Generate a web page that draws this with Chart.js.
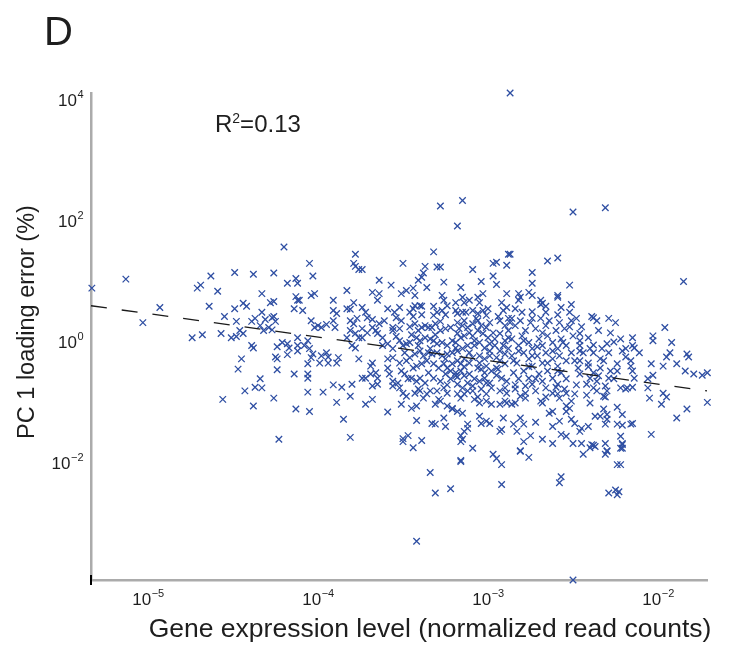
<!DOCTYPE html>
<html lang="en">
<head>
<meta charset="UTF-8">
<title>PC 1 loading error vs gene expression level</title>
<script src="https://cdn.jsdelivr.net/npm/chart.js@4.4.0/dist/chart.umd.min.js"></script>
<style>
    body { margin: 0; background: #ffffff; }
    .wrap { position: relative; width: 729px; height: 649px; }
</style>
</head>
<body>
<div class="wrap"><canvas id="scatter"></canvas></div>
<script>
// values, as log10 of each quantity (one line = same points in both arrays)
const log10Expression = [
    -5.33, -5.13, -5.03, -4.93, -4.74, -4.71, -4.69, -4.68, -4.63, -4.59,
    -4.64, -4.57, -4.56, -4.55, -4.49, -4.49, -4.48, -4.51, -4.48, -4.46,
    -4.44, -4.44, -4.42, -4.45, -4.47, -4.43, -4.39, -4.38, -4.38, -4.38,
    -4.37, -4.34, -4.33, -4.39, -4.37, -4.33, -4.33, -4.34, -4.32, -4.31,
    -4.29, -4.27, -4.27, -4.26, -4.25, -4.28, -4.26, -4.26, -4.26, -4.23,
    -4.24, -4.21, -4.18, -4.17, -4.25, -4.24, -4.18, -4.24, -4.20, -4.18,
    -4.14, -4.14, -4.13, -4.13, -4.12, -4.13, -4.12, -4.12, -4.12, -4.12,
    -4.05, -4.03, -4.04, -4.02, -4.09, -4.11, -4.04, -4.02, -4.00, -3.98,
    -3.95, -4.06, -4.08, -4.05, -4.03, -4.04, -3.98, -3.95, -3.94, -4.06,
    -3.99, -3.94, -3.89, -3.88, -4.06, -4.06, -4.06, -4.05, -3.97, -3.91,
    -3.86, -3.89, -3.85, -3.81, -3.80, -3.81, -3.91, -3.91, -3.89, -3.91,
    -3.90, -3.83, -3.83, -3.81, -3.79, -3.78, -3.79, -3.78, -3.76, -3.74,
    -3.81, -3.79, -3.77, -3.83, -3.81, -3.78, -3.76, -3.74, -3.78, -3.80,
    -3.76, -3.74, -3.72, -3.71, -3.68, -3.74, -3.71, -3.68, -3.66, -3.65,
    -3.68, -3.64, -3.65, -3.64, -3.68, -3.69, -3.72, -3.69, -3.66, -3.65,
    -3.68, -3.65, -3.72, -3.68, -3.74, -3.62, -3.62, -3.59, -3.64, -3.61,
    -3.59, -3.57, -3.56, -3.56, -3.59, -3.56, -3.59, -3.58, -3.56, -3.56,
    -3.59, -3.54, -3.52, -3.52, -3.51, -3.48, -3.50, -3.52, -3.50, -3.48,
    -3.46, -3.52, -3.48, -3.46, -3.51, -3.49, -3.47, -3.52, -3.50, -3.51,
    -3.50, -3.47, -3.46, -3.44, -3.43, -3.44, -3.43, -3.41, -3.39, -3.38,
    -3.37, -3.36, -3.40, -3.39, -3.43, -3.41, -3.39, -3.37, -3.35, -3.42,
    -3.40, -3.37, -3.34, -3.43, -3.40, -3.38, -3.35, -3.44, -3.42, -3.39,
    -3.45, -3.42, -3.40, -3.37, -3.43, -3.40, -3.38, -3.36, -3.45, -3.42,
    -3.42, -3.44, -3.39, -3.32, -3.30, -3.28, -3.26, -3.27, -3.26, -3.24,
    -3.32, -3.30, -3.27, -3.33, -3.31, -3.28, -3.25, -3.22, -3.32, -3.30,
    -3.27, -3.24, -3.21, -3.33, -3.30, -3.27, -3.24, -3.21, -3.32, -3.29,
    -3.26, -3.24, -3.21, -3.32, -3.28, -3.25, -3.22, -3.19, -3.34, -3.30,
    -3.26, -3.24, -3.31, -3.28, -3.24, -3.21, -3.33, -3.31, -3.26, -3.25,
    -3.16, -3.15, -3.14, -3.11, -3.19, -3.18, -3.15, -3.18, -3.15, -3.14,
    -3.12, -3.18, -3.16, -3.14, -3.11, -3.19, -3.18, -3.15, -3.12, -3.18,
    -3.16, -3.14, -3.11, -3.19, -3.16, -3.14, -3.11, -3.18, -3.15, -3.12,
    -3.09, -3.18, -3.16, -3.14, -3.21, -3.18, -3.15, -3.12, -3.12, -3.14,
    -3.16, -3.15, -3.09, -3.09, -3.16, -3.06, -3.05, -3.03, -3.04, -3.09,
    -3.06, -3.03, -3.01, -3.09, -3.06, -3.04, -3.01, -2.99, -3.09, -3.06,
    -3.03, -3.00, -2.97, -3.08, -3.05, -3.02, -2.99, -2.96, -3.09, -3.05,
    -3.02, -2.99, -2.95, -3.06, -3.04, -3.01, -2.98, -2.95, -3.08, -3.05,
    -3.02, -2.99, -3.09, -3.04, -3.01, -2.98, -3.08, -3.05, -3.01, -2.98,
    -3.05, -3.04, -3.01, -2.99, -2.97, -2.95, -2.93, -2.92, -2.91, -2.97,
    -2.95, -2.97, -2.95, -2.89, -2.88, -2.89, -2.92, -2.91, -2.89, -2.93,
    -2.90, -2.88, -2.93, -2.90, -2.88, -2.93, -2.90, -2.88, -2.93, -2.90,
    -2.92, -2.89, -2.93, -2.90, -2.93, -2.90,
    -2.87, -2.74, -2.65, -2.59, -2.74, -2.52, -2.82, -2.81, -2.82, -2.76,
    -2.74, -2.69, -2.68, -2.69, -2.59, -2.59, -2.84, -2.74, -2.66, -2.57,
    -2.51, -2.48, -2.51, -2.39, -2.38, -2.25, -1.85, -1.96, -2.03, -2.03,
    -1.92, -2.15, -2.15, -2.14, -2.28, -2.26, -2.41, -2.46, -2.19, -2.21,
    -2.30, -2.33, -2.40, -2.38, -2.46, -2.46, -1.93, -1.95, -1.83, -1.82,
    -2.16, -2.16, -2.04, -1.97, -1.89, -1.84, -1.79, -1.74, -1.71, -2.03,
    -2.06, -2.15, -2.14, -2.24, -2.24, -2.28, -2.29, -2.34, -2.34, -2.35,
    -2.38, -2.40, -2.41, -2.46, -2.47, -2.46, -2.22, -2.19, -2.18, -2.15,
    -2.31, -2.30, -2.32, -2.38, -2.36, -2.42, -2.06, -2.05, -1.97, -1.95,
    -1.98, -1.71, -1.83, -1.89, -2.04, -2.24, -2.21, -2.15, -2.16, -2.24,
    -2.21, -2.22, -2.21, -2.22, -2.32, -2.30, -2.34, -2.37, -2.30, -2.31,
    -2.30, -2.31, -2.40, -2.41, -2.45, -2.46, -2.39, -2.37, -2.44, -2.51,
    -2.49, -2.54, -2.52, -2.57, -2.54, -2.50, -2.45, -2.58, -2.62, -2.64,
    -2.62, -2.68, -2.62, -2.72, -2.75, -2.79, -2.81, -2.76, -2.81, -2.79,
    -2.85, -2.83, -2.89, -2.86, -2.84, -2.81, -2.78, -2.69, -2.68, -2.59,
    -2.58, -2.54, -2.51, -2.49,
    -2.86, -2.84, -2.81, -2.78, -2.75, -2.72, -2.69, -2.66, -2.64, -2.60,
    -2.58, -2.55, -2.86, -2.82, -2.80, -2.76, -2.74, -2.70, -2.68, -2.65,
    -2.62, -2.59, -2.57, -2.54, -2.50, -2.86, -2.83, -2.79, -2.76, -2.74,
    -2.71, -2.68, -2.66, -2.62, -2.59, -2.58, -2.54, -2.51, -2.85, -2.82,
    -2.79, -2.76, -2.74, -2.70, -2.68, -2.65, -2.62, -2.59, -2.57, -2.54,
    -2.84, -2.78, -2.72, -2.66, -2.62, -2.55,
    -3.56, -3.54, -3.49, -3.46, -3.44, -3.41, -3.36, -3.34, -3.31, -3.28,
    -3.25, -3.22, -3.19, -3.17, -3.14, -3.11, -3.08, -3.05, -3.02, -2.99,
    -2.96, -2.94, -2.91, -2.88, -2.85, -2.82, -2.79, -2.76, -2.74, -2.71,
    -2.68, -2.65, -2.62, -2.59, -2.56, -2.52, -2.49, -2.46, -2.44, -2.41,
    -2.38, -2.35, -2.32, -2.29, -2.26, -3.53, -3.48, -3.41, -3.35, -3.29,
    -3.24, -3.18, -3.12, -3.06, -3.01, -2.95, -2.89, -2.84, -2.78, -2.72,
    -2.66, -2.60, -2.54, -2.48, -2.42, -2.36, -2.31, -3.55, -3.51, -3.45,
    -3.39, -3.32, -3.25, -3.19, -3.13, -3.07, -3.00, -2.94, -2.87, -2.80,
    -2.74, -2.66, -2.59, -2.52, -2.45, -2.36, -2.29, -2.22, -2.19, -2.11,
    -3.34, -3.31, -3.22, -3.42, -3.16, -2.92, -2.92, -2.81, -2.57, -2.58,
    -2.40, -2.38, -2.31, -2.30, -2.21, -2.21, -2.24, -2.22, -2.29, -2.25,
    -2.23, -2.24, -2.50, -3.50, -3.16,
    -2.87, -3.28, -3.15, -3.18, -2.50, -2.31
];
const log10Error = [
    0.87, 1.02, 0.30, 0.55, 0.05, 0.87, 0.92, 0.10, 1.07, 0.82,
    0.57, 0.12, -0.97, 0.40, 1.13, 0.53, 0.32, 0.05, 0.07, 0.17,
    0.12, 0.62, 0.57, -0.30, -0.47, -0.83, -0.08, -0.12, -1.08, 1.10,
    -0.77, -0.63, -0.78, 0.32, 0.37, 0.78, 0.47, 0.25, 0.17, 0.35,
    0.22, 0.18, 0.38, 0.40, 0.32, 0.63, 0.65, 1.12, -0.95, -1.63,
    -0.10, -0.03, -0.05, -0.12, -0.27, -0.30, -0.23, -0.48, 1.55, 0.95,
    0.53, -0.55, -1.13, 1.03, 0.95, 0.73, 0.67, 0.05, -0.08, -0.17,
    1.28, 1.07, 0.75, 0.78, 0.50, 0.67, 0.33, 0.22, 0.25, 0.22,
    0.27, 0.00, -0.08, -0.13, -0.22, -0.28, -0.25, -0.20, -0.27, -0.38,
    -0.37, -0.37, -0.37, -0.28, -0.55, -0.62, -0.85, -1.17, -0.85, -0.73,
    -0.77, -1.02, -1.30, -1.60, -0.72, -0.92, 0.67, 0.50, 0.45, 0.33,
    0.22, 0.83, 0.53, 0.52, 0.63, 1.43, 1.28, 1.23, 1.18, 1.18,
    0.33, 0.28, 0.37, 0.05, 0.17, 0.12, 0.05, 0.05, -0.12, -0.08,
    -0.30, 0.55, 0.47, 0.38, 0.35, 0.20, 0.13, 0.22, 0.17, 0.12,
    0.80, 0.78, 0.67, 1.00, -0.37, -0.42, -0.62, -0.55, -0.53, -0.62,
    -0.75, -0.72, -1.05, -0.97, -0.62, 0.05, -0.08, -0.05, 0.28, 0.33,
    0.53, 0.92, 0.17, 0.22, -0.30, -0.28, -0.45, -0.55, -0.67, -0.75,
    -1.18, 0.38, 0.20, 0.55, 0.78, 0.83, 1.28, 0.00, -0.08, -0.05,
    -0.03, -0.37, -0.33, -0.28, -0.50, -0.55, -0.63, -0.78, -0.87, -1.05,
    -1.62, -1.57, 0.47, 0.53, 0.58, 0.87, 0.75, 1.00, 1.05, 1.12,
    1.23, 0.88, 0.58, 0.57, 0.28, 0.17, 0.22, 0.25, 0.22, 0.05,
    0.00, 0.05, 0.03, -0.22, -0.17, -0.25, -0.20, -0.45, -0.42, -0.38,
    -0.62, -0.67, -0.62, -0.70, -0.87, -0.83, -0.95, -0.88, -1.12, -1.08,
    -1.32, -1.77, -1.65, 1.47, 1.22, 1.22, 0.97, 0.75, 0.67, 0.58,
    0.42, 0.47, 0.50, 0.22, 0.28, 0.17, 0.20, 0.22, 0.00, -0.05,
    -0.03, -0.08, 0.00, -0.22, -0.20, -0.25, -0.22, -0.20, -0.38, -0.45,
    -0.38, -0.45, -0.38, -0.62, -0.67, -0.55, -0.63, -0.58, -0.83, -0.83,
    -0.78, -0.87, -1.05, -1.00, -1.08, -1.12, -1.37, -1.38, -1.28, -1.42,
    0.88, 0.72, 0.63, 0.67, 0.50, 0.45, 0.47, 0.30, 0.25, 0.33,
    0.22, 0.12, 0.05, 0.08, 0.13, -0.12, -0.17, -0.13, -0.08, -0.33,
    -0.38, -0.30, -0.37, -0.53, -0.50, -0.58, -0.55, -0.72, -0.78, -0.70,
    -0.75, -0.88, -0.95, -0.88, -1.13, -1.17, -1.20, -1.38, -1.45, -1.50,
    -1.57, -1.63, 1.18, -1.78, -1.98, 0.72, 0.63, 0.78, 0.98, 0.50,
    0.45, 0.50, 0.42, 0.28, 0.33, 0.25, 0.22, 0.30, 0.08, 0.17,
    0.12, 0.05, 0.13, -0.08, -0.03, -0.12, -0.05, -0.08, -0.28, -0.25,
    -0.30, -0.25, -0.28, -0.45, -0.47, -0.42, -0.50, -0.45, -0.63, -0.67,
    -0.62, -0.70, -0.83, -0.80, -0.88, -0.78, -0.97, -1.03, -1.00, -1.05,
    -1.25, -1.37, -1.33, -1.37, -1.88, -1.95, -1.50, -1.47, -1.28, 1.28,
    1.30, 1.07, 0.93, 1.25, 1.43, 0.78, 0.63, 0.50, 0.55, 0.33,
    0.25, 0.37, 0.12, 0.00, 0.05, -0.17, -0.22, -0.13, -0.33, -0.38,
    -0.62, -0.67, -0.83, -0.78, -1.05, -1.00,
    1.43, 1.13, 1.32, 1.37, 0.95, 0.92, 0.78, 0.72, 0.67, 0.80,
    0.75, 0.67, 0.62, 0.60, 0.75, 0.72, 0.53, 0.48, 0.47, 0.55,
    0.60, 0.37, 0.33, 0.40, 0.38, 0.30, 0.98, 0.22, 0.08, 0.00,
    -0.03, 0.05, -0.08, -0.12, 0.13, -0.02, 0.05, 0.12, -0.13, -0.17,
    -0.05, -0.13, -0.13, -0.20, -0.08, -0.17, -0.20, -0.27, -0.22, -0.27,
    -0.33, -0.42, -0.38, -0.42, -0.38, -0.50, -0.55, -0.57, -0.53, -0.57,
    -0.63, -0.50, -0.62, -0.38, -0.50, -0.50, -0.62, -0.30, -0.45, -0.58,
    -0.53, -0.62, -0.37, -0.33, -0.45, -0.55, -0.78, -0.80, -0.78, -0.77,
    -0.75, -0.83, -0.92, -0.78, -0.83, -0.72, -0.78, -0.95, -0.87, -0.93,
    -1.05, -1.02, -1.13, -1.28, -1.55, -1.10, -1.22, -1.37, -1.38, -1.38,
    -1.40, -1.58, -1.72, -1.78, -1.13, -1.22, -1.25, -1.25, -1.30, -1.38,
    -1.83, -1.88, -1.03, -1.42, -1.45, -1.50, -1.72, -1.75, -1.88, -1.30,
    -1.37, -1.17, -1.12, -1.55, -1.58, -1.70, -1.70, -1.33, -1.42, -1.20,
    -1.17, -1.63, -1.70, -1.35, -1.57, -1.67, -1.83, -1.93, -1.28, -1.38,
    -1.38, -1.50, -1.03, -1.05, -1.03, -0.92, -0.95, -1.00, -1.03, -0.88,
    -0.95, -1.08, -1.00, -0.88,
    0.37, 0.25, 0.33, 0.17, 0.30, 0.20, 0.37, 0.25, 0.33, 0.17,
    0.30, 0.20, 0.03, -0.08, 0.08, -0.03, -0.13, 0.03, -0.08, 0.08,
    -0.03, -0.13, 0.03, -0.08, 0.08, -0.25, -0.37, -0.20, -0.30, -0.42,
    -0.25, -0.37, -0.20, -0.30, -0.42, -0.25, -0.33, -0.20, -0.53, -0.63,
    -0.50, -0.62, -0.72, -0.55, -0.67, -0.50, -0.62, -0.72, -0.53, -0.63,
    -0.80, -0.75, -0.83, -0.78, -0.87, -0.80,
    -0.13, 0.07, -0.20, 0.23, 0.40, -0.08, -0.33, -0.13, 0.10, 0.32,
    -0.30, -0.50, -0.03, 0.20, -0.43, -0.20, 0.00, -0.37, -0.53, -0.17,
    0.03, -0.47, -0.08, 0.17, -0.33, -0.17, 0.00, -0.43, -0.25, -0.10,
    0.13, -0.37, -0.17, -0.50, -0.03, 0.23, -0.33, 0.00, -0.20, -0.43,
    -0.07, 0.17, -0.33, -0.20, -0.63, -0.70, -0.92, -0.80, -0.53, -0.97,
    -0.73, -0.60, -0.83, -0.93, -0.70, -0.57, -0.87, -0.73, -0.87, -0.63,
    -0.93, -0.77, -0.87, -0.73, -0.90, -0.67, -0.93, 0.47, 0.33, 0.10,
    0.43, 0.57, 0.43, 0.63, 0.47, 0.37, 0.53, 0.40, 0.30, 0.47,
    0.37, 0.57, 0.43, 0.47, 0.23, 0.33, 0.37, 0.03, -0.27, -0.20,
    -2.18, -2.52, -2.45, -3.32, -2.00, -2.05, -2.38, -1.82, -2.25, -2.35,
    -1.77, -1.73, -1.70, -1.82, -1.70, -1.78, -2.05, -2.05, -2.52, -2.47,
    -2.50, -2.55, -3.96, -1.67, -1.67,
    4.10, 2.23, 2.32, 1.90, 2.13, 2.20
];
// dashed least-squares fit, end points at the axis limits
const trendLog10Expression = [-5.335, -1.712];
const trendLog10Error = [0.58, -0.83];
// tick labels are powers of ten
const xTickExponents = [-5, -4, -3, -2];
const yTickExponents = [-2, 0, 2, 4];
const panelLetter = 'D';
const fitText = { base: 'R', sup: '2', rest: '=0.13' };
const xTitle = 'Gene expression level (normalized read counts)';
const yTitle = 'PC 1 loading error (%)';

const FONT = '"Liberation Sans", Arial, Helvetica, sans-serif';
const TEXT = '#1e1e1e';

const points = log10Expression.map((lx, i) => ({ x: 10 ** lx, y: 10 ** log10Error[i] }));
const trend = trendLog10Expression.map((lx, i) => ({ x: 10 ** lx, y: 10 ** trendLog10Error[i] }));

function supText(n) {
    return n < 0 ? '\u2212' + (-n) : String(n);
}

// "10" with a raised exponent
function drawPower(ctx, exp, x, y, align) {
    ctx.font = '17px ' + FONT;
    const wb = ctx.measureText('10').width;
    ctx.font = '11px ' + FONT;
    const sup = supText(exp);
    const ws = ctx.measureText(sup).width;
    const left = align === 'center' ? x - (wb + ws) / 2 : x - wb - ws;
    ctx.font = '17px ' + FONT;
    ctx.fillText('10', left, y);
    ctx.font = '11px ' + FONT;
    ctx.fillText(sup, left + wb + 0.5, y - 8);
}

const annotations = {
    id: 'annotations',
    afterDraw(chart) {
        const { ctx, scales: { x, y }, chartArea } = chart;
        ctx.save();
        ctx.fillStyle = TEXT;
        ctx.textAlign = 'left';
        ctx.textBaseline = 'alphabetic';

        xTickExponents.forEach(e => drawPower(ctx, e, x.getPixelForValue(10 ** e), chartArea.bottom + 25, 'center'));
        yTickExponents.forEach(e => drawPower(ctx, e, chartArea.left - 8, y.getPixelForValue(10 ** e) + 7, 'right'));

        // small black tick at the corner
        ctx.fillStyle = '#000';
        ctx.fillRect(chartArea.left - 1, chartArea.bottom - 5, 2, 10);
        ctx.fillStyle = TEXT;

        ctx.font = '40px ' + FONT;
        ctx.fillText(panelLetter, 44, 45);

        ctx.font = '24px ' + FONT;
        let fx = 215;
        ctx.fillText(fitText.base, fx, 132);
        fx += ctx.measureText(fitText.base).width;
        ctx.font = '14px ' + FONT;
        ctx.fillText(fitText.sup, fx, 123);
        fx += ctx.measureText(fitText.sup).width;
        ctx.font = '24px ' + FONT;
        ctx.fillText(fitText.rest, fx, 132);

        ctx.textAlign = 'center';
        ctx.textBaseline = 'middle';
        ctx.font = '26.5px ' + FONT;
        ctx.fillText(xTitle, 430, 630);

        ctx.translate(28, 322);
        ctx.rotate(-Math.PI / 2);
        ctx.font = '23.5px ' + FONT;
        ctx.fillText(yTitle, 0, 0);
        ctx.restore();
    }
};

new Chart(document.getElementById('scatter'), {
    type: 'scatter',
    data: {
        datasets: [{
            type: 'line',
            data: trend,
            borderColor: '#1a1a1a',
            borderWidth: 1.4,
            borderDash: [16, 15],
            pointRadius: 0,
            fill: false,
            clip: false
        }, {
            data: points,
            pointStyle: 'crossRot',
            pointRadius: 4.6,
            pointBorderWidth: 1.3,
            pointBorderColor: '#2f4fa3',
            pointBackgroundColor: '#2f4fa3',
            clip: false
        }]
    },
    options: {
        responsive: true,
        maintainAspectRatio: false,
        animation: false,
        layout: { padding: { top: 93, right: 22, left: 0, bottom: 0 } },
        plugins: { legend: { display: false }, tooltip: { enabled: false } },
        scales: {
            x: {
                type: 'logarithmic',
                min: 10 ** -5.335,
                max: 10 ** -1.712,
                grid: { display: false },
                border: { display: true, color: '#ababab', width: 2.5 },
                ticks: { display: false },
                afterFit(scale) { scale.height = 69; }
            },
            y: {
                type: 'logarithmic',
                min: 10 ** -3.96,
                max: 10 ** 4.1,
                grid: { display: false },
                border: { display: true, color: '#ababab', width: 2.5 },
                ticks: { display: false },
                afterFit(scale) { scale.width = 91; }
            }
        }
    },
    plugins: [annotations]
});
</script>
</body>
</html>
